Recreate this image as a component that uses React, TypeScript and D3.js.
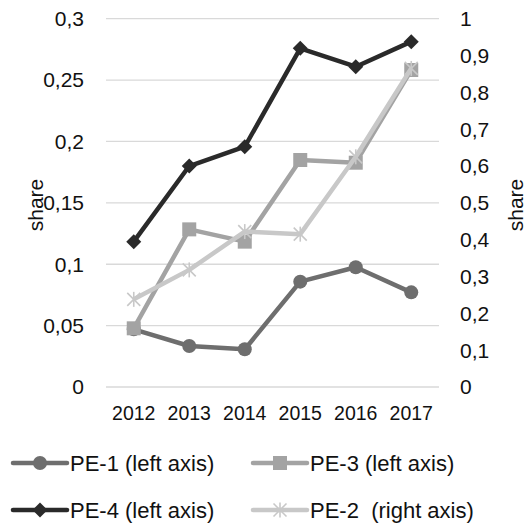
import React from "react";
import * as d3 from "d3";

const years = ["2012", "2013", "2014", "2015", "2016", "2017"];
const pe1 = [0.047, 0.0334, 0.0307, 0.0858, 0.0975, 0.0771];
const pe3 = [0.0478, 0.1284, 0.1184, 0.1849, 0.1827, 0.2582];
const pe4 = [0.1184, 0.18, 0.1957, 0.2759, 0.2609, 0.2813];
const pe2 = [0.238, 0.318, 0.422, 0.415, 0.625, 0.865];
const leftTicks = [0, 0.05, 0.1, 0.15, 0.2, 0.25, 0.3];
const rightTicks = [0, 0.1, 0.2, 0.3, 0.4, 0.5, 0.6, 0.7, 0.8, 0.9, 1];

const W = 531;
const H = 524;
const textStyle: React.CSSProperties = {
  fontFamily: '"Liberation Sans", Arial, sans-serif',
  whiteSpace: "pre",
};
const plot = { left: 106, right: 439, top: 18.7, bottom: 387 };

const x = d3.scaleBand().domain(years).range([plot.left, plot.right]);
const yL = d3.scaleLinear().domain([0, 0.3]).range([plot.bottom, plot.top]);
const yR = d3.scaleLinear().domain([0, 1]).range([plot.bottom, plot.top]);
const cx = (i: number) => (x(years[i]) as number) + x.bandwidth() / 2;
const fmt = (v: number) => String(+v.toFixed(2)).replace(".", ",");

type Marker = "circle" | "square" | "diamond" | "star";
interface Series {
  name: string;
  values: number[];
  axis: "left" | "right";
  color: string;
  marker: Marker;
}

const series: Series[] = [
  { name: "PE-1 (left axis)", values: pe1, axis: "left", color: "#6e6e6e", marker: "circle" },
  { name: "PE-3 (left axis)", values: pe3, axis: "left", color: "#a3a3a3", marker: "square" },
  { name: "PE-4 (left axis)", values: pe4, axis: "left", color: "#2a2a2a", marker: "diamond" },
  { name: "PE-2  (right axis)", values: pe2, axis: "right", color: "#c8c8c8", marker: "star" },
];

function MarkerShape({ type, px, py, color }: { type: Marker; px: number; py: number; color: string }) {
  if (type === "circle") return <circle cx={px} cy={py} r={7} fill={color} />;
  if (type === "square")
    return <rect x={px - 7} y={py - 7} width={14} height={14} fill={color} />;
  if (type === "diamond") {
    const s = 7.5;
    return <path d={`M${px},${py - s}L${px + s},${py}L${px},${py + s}L${px - s},${py}Z`} fill={color} />;
  }
  const s = 6.5;
  return (
    <g stroke={color} strokeWidth={1.6}>
      <line x1={px - s} y1={py - s} x2={px + s} y2={py + s} />
      <line x1={px - s} y1={py + s} x2={px + s} y2={py - s} />
      <line x1={px} y1={py - s - 1} x2={px} y2={py + s + 1} />
    </g>
  );
}

export default function App() {
  const line = (s: Series) => {
    const yy = s.axis === "left" ? yL : yR;
    return d3
      .line<number>()
      .x((_, i) => cx(i))
      .y((v) => yy(v))(s.values) as string;
  };
  const legendPos = [
    { lx: 13, ly: 463 },
    { lx: 253, ly: 463 },
    { lx: 13, ly: 510 },
    { lx: 253, ly: 510 },
  ];
  return (
    <svg width={W} height={H} style={{ position: "absolute", left: 0, top: 0, background: "#fff" }}>
      <rect width={W} height={H} fill="#fff" />
      {leftTicks.map((t) => (
        <line key={t} x1={plot.left} x2={plot.right} y1={yL(t)} y2={yL(t)} stroke="#d9d9d9" strokeWidth={1.3} />
      ))}
      <g style={textStyle} fill="#111">
        {leftTicks.map((t) => (
          <text key={t} x={84} y={yL(t)} dy="0.35em" textAnchor="end" fontSize={21}>
            {fmt(t)}
          </text>
        ))}
        {rightTicks.map((t) => (
          <text key={t} x={460} y={yR(t)} dy="0.35em" textAnchor="start" fontSize={21}>
            {fmt(t)}
          </text>
        ))}
        {years.map((yr, i) => (
          <text key={yr} x={cx(i)} y={413} dy="0.35em" textAnchor="middle" fontSize={19.5}>
            {yr}
          </text>
        ))}
        <text transform="translate(36,205) rotate(-90)" dy="0.35em" textAnchor="middle" fontSize={21}>
          share
        </text>
        <text transform="translate(516,205) rotate(-90)" dy="0.35em" textAnchor="middle" fontSize={21}>
          share
        </text>
      </g>
      {series.map((s) => {
        const yy = s.axis === "left" ? yL : yR;
        return (
          <g key={s.name}>
            <path d={line(s)} fill="none" stroke={s.color} strokeWidth={4.5} strokeLinejoin="round" />
            {s.values.map((v, i) => (
              <MarkerShape key={i} type={s.marker} px={cx(i)} py={yy(v)} color={s.color} />
            ))}
          </g>
        );
      })}
      {series.map((s, k) => {
        const { lx, ly } = legendPos[k];
        return (
          <g key={s.name}>
            <line x1={lx} x2={lx + 54} y1={ly} y2={ly} stroke={s.color} strokeWidth={4.5} strokeLinecap="round" />
            <MarkerShape type={s.marker} px={lx + 27} py={ly} color={s.color} />
            <text x={lx + 57} y={ly} dy="0.35em" fontSize={22} fill="#111" style={textStyle}>
              {s.name}
            </text>
          </g>
        );
      })}
    </svg>
  );
}
